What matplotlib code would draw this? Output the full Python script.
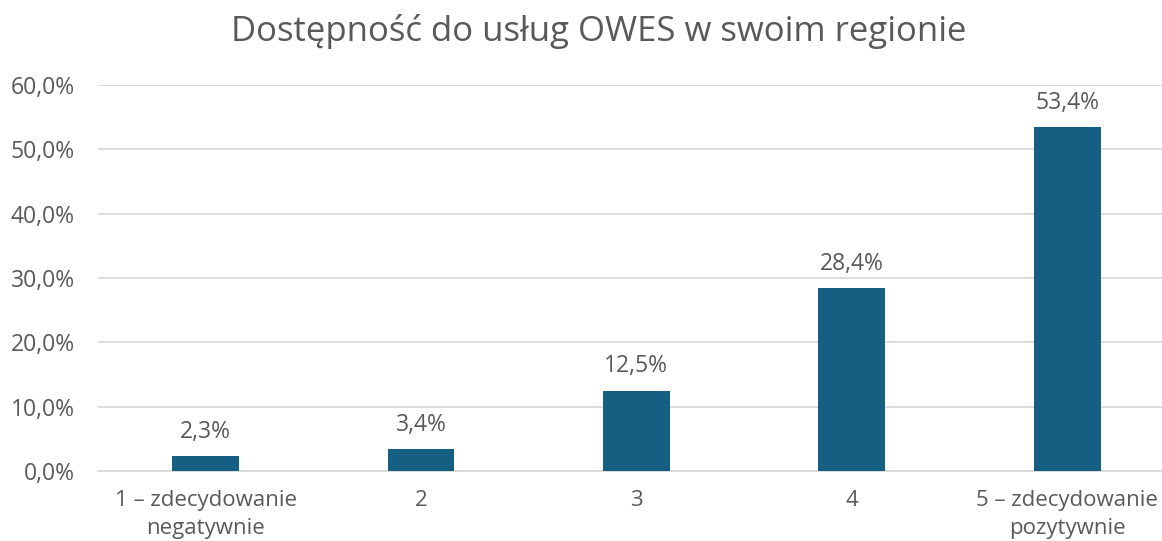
import matplotlib.pyplot as plt
from matplotlib.ticker import FuncFormatter

categories = ['1 – zdecydowanie\nnegatywnie', '2', '3', '4', '5 – zdecydowanie\npozytywnie']
values = [2.3, 3.4, 12.5, 28.4, 53.4]
yticks = [0, 10, 20, 30, 40, 50, 60]

TEXT = '#595959'
BAR = '#156082'
GRID = '#d9d9d9'

plt.rcParams['font.family'] = ['Open Sans', 'DejaVu Sans']

fig = plt.figure(figsize=(11.62, 5.41), dpi=100)
ax = fig.add_axes([0.0842, 0.1294, 0.9269, 0.7135])

x = list(range(len(values)))
ax.bar(x, values, width=0.31, color=BAR, zorder=3)

for xi, v in zip(x, values):
    ax.annotate(f'{v:.1f}%'.replace('.', ','), (xi, v), xytext=(0, 9),
                textcoords='offset points', ha='center', va='bottom',
                fontsize=16.5, color=TEXT)

ax.set_xlim(-0.5, len(values) - 0.5)
ax.set_ylim(0, 60)
ax.set_yticks(yticks)
ax.yaxis.set_major_formatter(FuncFormatter(lambda v, _: f'{v:.1f}%'.replace('.', ',')))
ax.set_xticks(x)
ax.set_xticklabels(categories, linespacing=1.45)

ax.grid(axis='y', color=GRID, lw=1.3, zorder=0)
for side in ['top', 'right', 'left']:
    ax.spines[side].set_visible(False)
ax.spines['bottom'].set_color(GRID)
ax.spines['bottom'].set_linewidth(1.3)
ax.tick_params(axis='y', length=0, labelsize=16.5, colors=TEXT, pad=16.5)
ax.tick_params(axis='x', length=0, labelsize=16, colors=TEXT, pad=13.5)

fig.text(0.5155, 0.941, 'Dostępność do usług OWES w swoim regionie',
         ha='center', va='center', fontsize=25, color=TEXT)

fig.savefig('out.png', dpi=100)
